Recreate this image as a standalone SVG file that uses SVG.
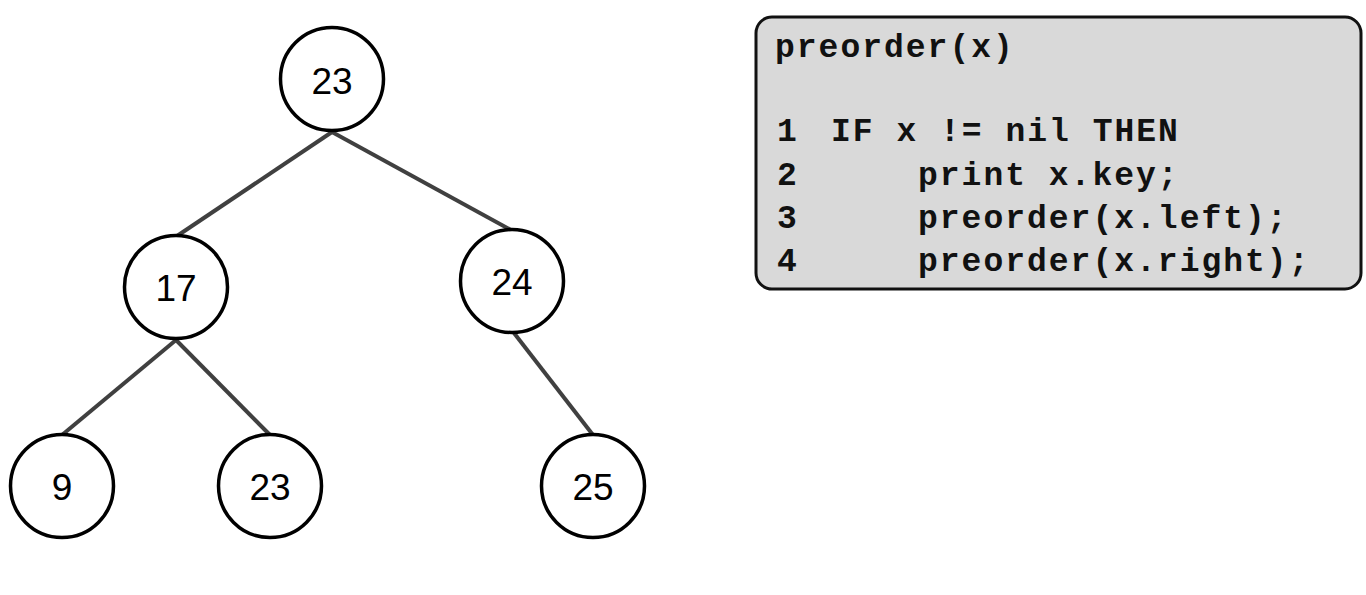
<svg xmlns="http://www.w3.org/2000/svg" width="1366" height="595" viewBox="0 0 1366 595">
<style>
.node circle{fill:#fff;stroke:#000;stroke-width:3.5}
.node text{font-family:"Liberation Sans",Arial,sans-serif;font-size:37px;fill:#000;text-anchor:middle}
.edge{stroke:#404040;stroke-width:4;fill:none}
.code{font-family:"Liberation Mono","Courier New",monospace;font-weight:bold;font-size:33px;letter-spacing:2px;fill:#111}
</style>
<rect width="1366" height="595" fill="#fff"/>
<g id="connectors">
<line class="edge" x1="332" y1="132" x2="177" y2="236"/>
<line class="edge" x1="332" y1="132" x2="511" y2="230"/>
<line class="edge" x1="176" y1="340" x2="62" y2="435"/>
<line class="edge" x1="176" y1="340" x2="270" y2="435"/>
<line class="edge" x1="514" y1="333" x2="593" y2="435"/>
</g>
<g id="n23root" class="node"><circle cx="332" cy="79" r="51.5"/><text x="332" y="94">23</text></g>
<g id="n17" class="node"><circle cx="176" cy="287" r="51.5"/><text x="176" y="301">17</text></g>
<g id="n24" class="node"><circle cx="512" cy="281" r="51.5"/><text x="512" y="295">24</text></g>
<g id="n9" class="node"><circle cx="62" cy="486" r="51.5"/><text x="62" y="500">9</text></g>
<g id="n23" class="node"><circle cx="270" cy="486" r="51.5"/><text x="270" y="500">23</text></g>
<g id="n25" class="node"><circle cx="593" cy="486" r="51.5"/><text x="593" y="500">25</text></g>
<g id="code">
<rect x="756" y="17" width="605" height="272" rx="16" ry="16" fill="#d9d9d9" stroke="#111" stroke-width="3"/>
<text class="code" x="775" y="57">preorder(x)</text>
<text class="code" x="777" y="141">1</text>
<text class="code" x="831" y="141">IF x != nil THEN</text>
<text class="code" x="777" y="185">2</text>
<text class="code" x="918" y="185">print x.key;</text>
<text class="code" x="777" y="228">3</text>
<text class="code" x="918" y="228">preorder(x.left);</text>
<text class="code" x="777" y="271">4</text>
<text class="code" x="918" y="271">preorder(x.right);</text>
</g>
</svg>
